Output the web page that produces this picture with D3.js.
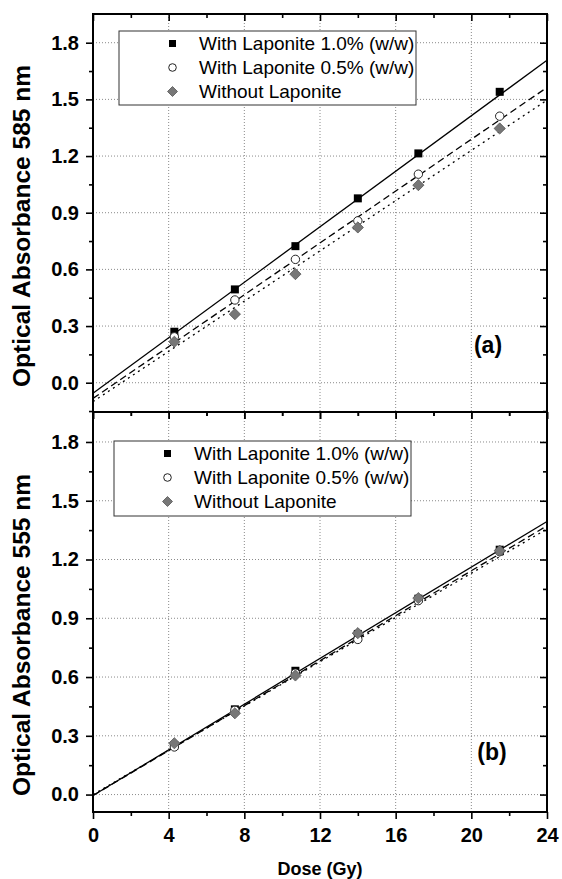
<!DOCTYPE html>
<html>
<head>
<meta charset="utf-8">
<script src="https://cdn.jsdelivr.net/npm/d3@7"></script>
<style>
  html, body { margin: 0; padding: 0; background: #fff; }
  svg text { font-family: "Liberation Sans", Arial, sans-serif; }
</style>
</head>
<body>
<svg id="chart" width="562" height="879"></svg>
<script>
// ---- data ----
const doses = [4.3, 7.5, 10.7, 14.0, 17.2, 21.5];
const seriesNames = ["With Laponite 1.0% (w/w)", "With Laponite 0.5% (w/w)", "Without Laponite"];

// Panel (a): absorbance at 585 nm
const a_lap10 = [0.270, 0.494, 0.723, 0.976, 1.214, 1.540];
const a_lap05 = [0.243, 0.438, 0.653, 0.857, 1.104, 1.411];
const a_none  = [0.217, 0.363, 0.575, 0.822, 1.046, 1.346];
// linear fits (value at dose 0, value at dose 24)
const a_fitStart = [-0.056, -0.083, -0.100];
const a_fitEnd   = [1.707, 1.563, 1.496];

// Panel (b): absorbance at 555 nm
const b_lap10 = [0.250, 0.435, 0.632, 0.820, 1.000, 1.250];
const b_lap05 = [0.243, 0.430, 0.620, 0.792, 0.990, 1.240];
const b_none  = [0.262, 0.415, 0.608, 0.824, 1.003, 1.245];
const b_fitStart = [-0.005, -0.005, 0.000];
const b_fitEnd   = [1.394, 1.372, 1.356];

const xTicks = [0, 4, 8, 12, 16, 20, 24];
const xMinor = [2, 6, 10, 14, 18, 22];
const yTicks = [0.0, 0.3, 0.6, 0.9, 1.2, 1.5, 1.8];
const yMinor = [-0.15, 0.15, 0.45, 0.75, 1.05, 1.35, 1.65];

// ---- drawing ----
const svg = d3.select("#chart");
const L = 93, R = 547;
const x = d3.scaleLinear().domain([0, 24]).range([L, R]);
const lineStyles = [null, "7,4", "2,4"];

function drawPanel(cfg) {
  const y = d3.scaleLinear().domain(cfg.ydom).range([cfg.bottom, cfg.top]);
  const g = svg.append("g");

  // grid
  g.selectAll(".gx").data(xTicks.filter(d => d > 0 && d < 24)).join("line")
    .attr("x1", d => x(d)).attr("x2", d => x(d))
    .attr("y1", cfg.top).attr("y2", cfg.bottom)
    .attr("stroke", "#8a8a8a").attr("stroke-width", 1).attr("stroke-dasharray", "1,2");
  g.selectAll(".gy").data(yTicks).join("line")
    .attr("x1", L).attr("x2", R)
    .attr("y1", d => y(d)).attr("y2", d => y(d))
    .attr("stroke", "#8a8a8a").attr("stroke-width", 1).attr("stroke-dasharray", "1,2");

  // axes
  const yMinorIn = yMinor.filter(v => v > cfg.ydom[0] && v < cfg.ydom[1]);
  g.append("g").attr("transform", `translate(${L},0)`)
    .call(d3.axisLeft(y).tickValues(yTicks).tickSize(7).tickPadding(7).tickFormat(d3.format(".1f")));
  g.append("g").attr("transform", `translate(${L},0)`)
    .call(d3.axisLeft(y).tickValues(yMinorIn).tickSize(4).tickFormat(""));
  g.append("g").attr("transform", `translate(${R},0)`)
    .call(d3.axisLeft(y).tickValues(yTicks).tickSize(7).tickFormat(""));
  g.append("g").attr("transform", `translate(${R},0)`)
    .call(d3.axisLeft(y).tickValues(yMinorIn).tickSize(4).tickFormat(""));
  g.append("g").attr("transform", `translate(0,${cfg.bottom})`)
    .call(d3.axisBottom(x).tickValues(xTicks).tickSize(7).tickPadding(9)
      .tickFormat(cfg.xlabels ? d3.format("d") : ""));
  g.append("g").attr("transform", `translate(0,${cfg.bottom})`)
    .call(d3.axisBottom(x).tickValues(xMinor).tickSize(4).tickFormat(""));
  g.append("g").attr("transform", `translate(0,${cfg.top})`)
    .call(d3.axisBottom(x).tickValues(xTicks).tickSize(7).tickFormat(""));
  g.append("g").attr("transform", `translate(0,${cfg.top})`)
    .call(d3.axisBottom(x).tickValues(xMinor).tickSize(4).tickFormat(""));

  g.selectAll(".domain").remove();
  g.selectAll(".tick line").attr("stroke", "#000").attr("stroke-width", 1.6);
  g.selectAll(".tick text").attr("fill", "#000")
    .style("font-size", "20px").style("font-weight", "bold");

  // frame
  g.append("rect").attr("x", L).attr("y", cfg.top)
    .attr("width", R - L).attr("height", cfg.bottom - cfg.top)
    .attr("fill", "none").attr("stroke", "#000").attr("stroke-width", 2);

  // fit lines
  cfg.fitStart.forEach((s, i) => {
    const pts = [[0, s], [24, cfg.fitEnd[i]]];
    g.append("path")
      .attr("d", d3.line().x(d => x(d[0])).y(d => y(d[1]))(pts))
      .attr("fill", "none").attr("stroke", "#000").attr("stroke-width", 1.3)
      .attr("stroke-dasharray", lineStyles[i]);
  });

  // markers
  const sq = 8;
  g.selectAll(".sq").data(doses.map((d, i) => [d, cfg.s1[i]])).join("rect")
    .attr("x", d => x(d[0]) - sq / 2).attr("y", d => y(d[1]) - sq / 2)
    .attr("width", sq).attr("height", sq).attr("fill", "#000");
  g.selectAll(".ci").data(doses.map((d, i) => [d, cfg.s2[i]])).join("circle")
    .attr("cx", d => x(d[0])).attr("cy", d => y(d[1])).attr("r", 4.2)
    .attr("fill", "#fff").attr("stroke", "#222").attr("stroke-width", 1);
  g.selectAll(".di").data(doses.map((d, i) => [d, cfg.s3[i]])).join("path")
    .attr("d", d => { const cx = x(d[0]), cy = y(d[1]), h = 5.6;
      return `M${cx},${cy - h}L${cx + h},${cy}L${cx},${cy + h}L${cx - h},${cy}Z`; })
    .attr("fill", "#777").attr("stroke", "#555").attr("stroke-width", 0.8);

  // legend
  const lg = svg.append("g");
  lg.append("rect").attr("x", cfg.leg.x).attr("y", cfg.leg.y)
    .attr("width", cfg.leg.w).attr("height", cfg.leg.h)
    .attr("fill", "#fff").attr("stroke", "#333").attr("stroke-width", 1);
  seriesNames.forEach((name, i) => {
    const cy = cfg.leg.y + 12.5 + i * 24;
    const mx = cfg.leg.x + 53.5;
    if (i === 0) lg.append("rect").attr("x", mx - 3.5).attr("y", cy - 3.5).attr("width", 7).attr("height", 7).attr("fill", "#000");
    if (i === 1) lg.append("circle").attr("cx", mx).attr("cy", cy).attr("r", 3.8).attr("fill", "#fff").attr("stroke", "#222").attr("stroke-width", 1);
    if (i === 2) lg.append("path").attr("d", `M${mx},${cy - 5}L${mx + 5},${cy}L${mx},${cy + 5}L${mx - 5},${cy}Z`).attr("fill", "#777").attr("stroke", "#555").attr("stroke-width", 0.8);
    lg.append("text").attr("x", cfg.leg.x + 80).attr("y", cy).attr("dy", "0.35em")
      .style("font-size", "19px").attr("fill", "#000").text(name);
  });

  // panel label
  svg.append("text").attr("x", cfg.lab.x).attr("y", cfg.lab.y).attr("text-anchor", "middle")
    .attr("dy", "0.35em").style("font-size", "23px").style("font-weight", "bold").text(cfg.lab.t);

  // y title
  svg.append("text").attr("transform", `translate(30,${cfg.ytitleY}) rotate(-90)`)
    .attr("text-anchor", "middle").style("font-size", "23px").style("font-weight", "bold")
    .attr("textLength", 322).attr("lengthAdjust", "spacingAndGlyphs")
    .text(cfg.ytitle);
}

drawPanel({
  top: 14, bottom: 412, ydom: [-0.155, 1.952], xlabels: false,
  s1: a_lap10, s2: a_lap05, s3: a_none, fitStart: a_fitStart, fitEnd: a_fitEnd,
  leg: { x: 119, y: 31, w: 297, h: 74 },
  lab: { x: 488, y: 345, t: "(a)" },
  ytitle: "Optical Absorbance 585 nm", ytitleY: 226
});
drawPanel({
  top: 412, bottom: 812, ydom: [-0.089, 1.953], xlabels: true,
  s1: b_lap10, s2: b_lap05, s3: b_none, fitStart: b_fitStart, fitEnd: b_fitEnd,
  leg: { x: 114, y: 441, w: 297, h: 75 },
  lab: { x: 492, y: 752, t: "(b)" },
  ytitle: "Optical Absorbance 555 nm", ytitleY: 635
});

svg.append("text").attr("x", 320).attr("y", 875).attr("text-anchor", "middle")
  .style("font-size", "18px").style("font-weight", "bold").text("Dose (Gy)");
</script>
</body>
</html>
